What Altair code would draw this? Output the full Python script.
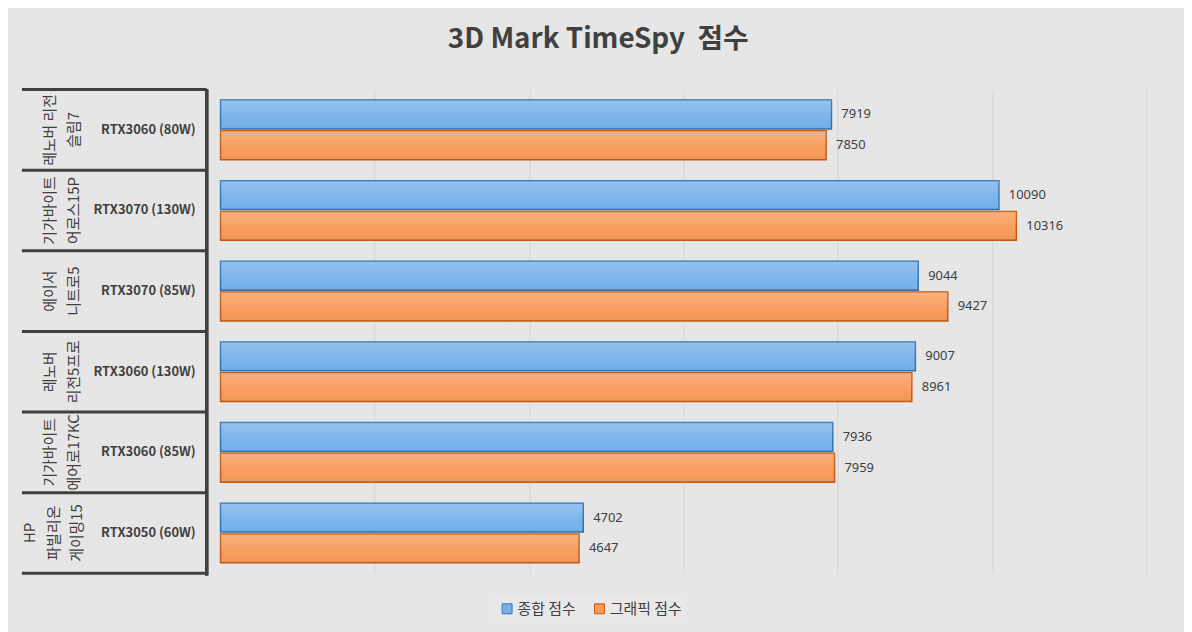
import altair as alt
import pandas as pd

laptops = ["레노버 리전\n슬림7", "기가바이트\n어로스15P", "에이서\n니트로5",
           "레노버\n리전5프로", "기가바이트\n에어로17KC", "HP\n파빌리온\n게이밍15"]
gpus = ["RTX3060 (80W)", "RTX3070 (130W)", "RTX3070 (85W)",
        "RTX3060 (130W)", "RTX3060 (85W)", "RTX3050 (60W)"]
series_names = ["종합 점수", "그래픽 점수"]
total_scores = [7919, 10090, 9044, 9007, 7936, 4702]
graphic_scores = [7850, 10316, 9427, 8961, 7959, 4647]

FONT = "Noto Sans CJK KR"
TXT = "#404040"
n = len(laptops)

rows = pd.DataFrame({"idx": list(range(n)), "laptop": laptops, "gpu": gpus})
bounds = pd.DataFrame({"b": list(range(n + 1))})

long_rows = []
for i in range(n):
    long_rows.append({"idx": i, "series": series_names[0], "value": total_scores[i]})
    long_rows.append({"idx": i, "series": series_names[1], "value": graphic_scores[i]})
bars_df = pd.DataFrame(long_rows)

H = 487
LW = 187
BW = 932
LH = 24

yq = alt.Scale(domain=[0, n], reverse=True, nice=False, zero=False)

hrules = alt.Chart(bounds).mark_rule(color=TXT, strokeWidth=3).encode(
    y=alt.Y("b:Q", scale=yq, axis=None),
    x=alt.value(0), x2=alt.value(LW - 1),
)
vrule = alt.Chart(bounds).mark_rule(color=TXT, strokeWidth=3).encode(
    x=alt.value(LW - 1), y=alt.value(0), y2=alt.value(H + 2),
)
laptop_text = alt.Chart(rows).transform_calculate(
    mid="datum.idx + 0.5",
    xoff="28 - (length(split(datum.laptop, '\\n')) - 2) * 20",
).mark_text(
    angle=270, lineBreak="\n", font=FONT, fontSize=15, color=TXT,
    align="center", baseline="middle", lineHeight=LH,
).encode(
    y=alt.Y("mid:Q", scale=yq, axis=None),
    x=alt.X("xoff:Q", scale=None, axis=None),
    text="laptop:N",
)
gpu_text = alt.Chart(rows).transform_calculate(mid="datum.idx + 0.5").mark_text(
    font=FONT, fontSize=13, fontWeight="bold", color=TXT, align="right", baseline="middle",
).encode(
    y=alt.Y("mid:Q", scale=yq, axis=None),
    x=alt.value(175),
    text="gpu:N",
)
labels_panel = alt.layer(hrules, vrule, laptop_text, gpu_text).properties(width=LW, height=H)

ys = alt.Y("idx:N", sort=list(range(n)), axis=None,
           scale=alt.Scale(paddingInner=0.26, paddingOuter=0.13))
yo = alt.YOffset("series:N", sort=series_names, scale=alt.Scale(paddingInner=0.06))
xs = alt.X("value:Q", scale=alt.Scale(domain=[0, 12000], nice=False),
           axis=alt.Axis(labels=False, ticks=False, domain=False, grid=True,
                         gridColor="#d6d6d6", values=[2000, 4000, 6000, 8000, 10000, 12000],
                         title=None))

base = alt.Chart(bars_df)
bar = base.mark_bar(strokeWidth=1.5).encode(
    x=xs, y=ys, yOffset=yo,
    color=alt.Color("series:N", sort=series_names,
                    scale=alt.Scale(domain=series_names, range=["#79b2ea", "#f89b5a"]),
                    legend=alt.Legend(orient="none", legendX=476, legendY=510,
                                      direction="horizontal", title=None,
                                      fillColor="#e8e8e8", padding=5,
                                      symbolType="square", symbolSize=100,
                                      symbolStrokeWidth=1,
                                      labelFont=FONT, labelFontSize=15, labelColor=TXT,
                                      columnPadding=16, labelOffset=3)),
    stroke=alt.Stroke("series:N", sort=series_names,
                      scale=alt.Scale(domain=series_names, range=["#2e75b6", "#c55a11"]),
                      legend=None),
)
shine = base.mark_bar(
    fill=alt.Gradient(gradient="linear", x1=0, y1=0, x2=0, y2=1,
                      stops=[alt.GradientStop(color="rgba(255,255,255,0.22)", offset=0),
                             alt.GradientStop(color="rgba(255,255,255,0.0)", offset=0.7),
                             alt.GradientStop(color="rgba(0,0,0,0.06)", offset=1)]),
).encode(x=xs, y=ys, yOffset=yo)
vals = base.mark_text(align="left", dx=10, font="Noto Sans", fontSize=13, color=TXT,
                      baseline="middle").encode(
    x=xs, y=ys, yOffset=yo, text=alt.Text("value:Q", format="d"))
bars_panel = alt.layer(bar, shine, vals).properties(width=BW, height=H)

chart = alt.hconcat(labels_panel, bars_panel, spacing=11).resolve_scale(
    y="independent", x="independent"
).properties(
    title=alt.TitleParams("3D Mark TimeSpy\u00a0 점수", font=FONT, fontSize=28,
                          fontWeight="bold", color=TXT, anchor="middle", offset=34, dx=15),
    padding={"left": 12, "top": 16, "right": 38, "bottom": 12},
    background="#e6e6e6",
).configure_view(stroke=None)

chart.save("out.html", embed_options={"renderer": "svg", "actions": False})
